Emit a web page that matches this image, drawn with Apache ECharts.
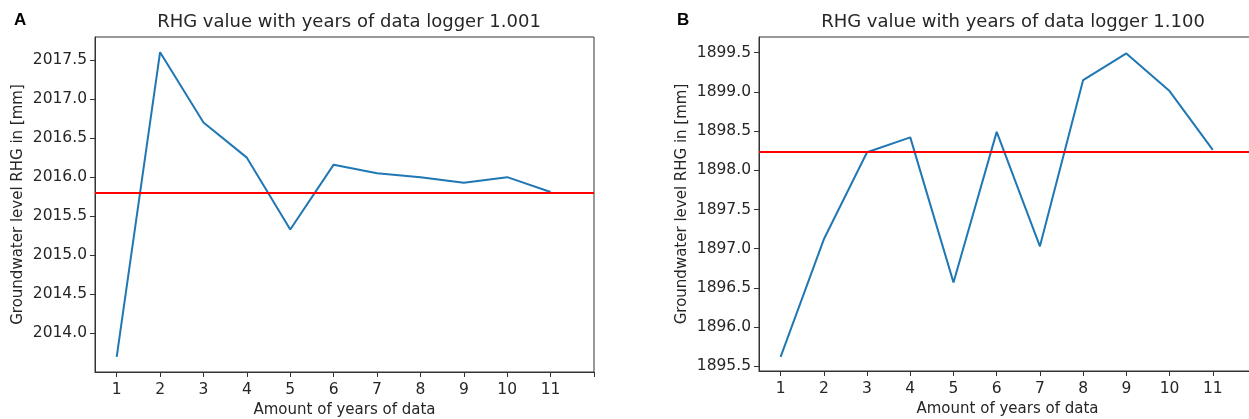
<!DOCTYPE html>
<html>
<head>
<meta charset="utf-8">
<script src="https://cdn.jsdelivr.net/npm/echarts@6/dist/echarts.min.js"></script>
<style>
html,body{margin:0;padding:0;background:#fff;}
#c{width:1249px;height:419px;}
</style>
</head>
<body>
<div id="c"></div>
<script>
const years = [1, 2, 3, 4, 5, 6, 7, 8, 9, 10, 11];
const xTicks = [1, 2, 3, 4, 5, 6, 7, 8, 9, 10, 11, 12];
const xLabels = [1, 2, 3, 4, 5, 6, 7, 8, 9, 10, 11];
const logger1001 = [2013.70, 2017.60, 2016.70, 2016.25, 2015.33, 2016.16, 2016.05, 2016.00, 2015.93, 2016.00, 2015.81];
const logger1100 = [1895.62, 1897.12, 1898.23, 1898.42, 1896.57, 1898.49, 1897.03, 1899.15, 1899.49, 1899.01, 1898.26];
const ref1001 = 2015.80;
const ref1100 = 1898.24;
const yTicks1001 = [2014.0, 2014.5, 2015.0, 2015.5, 2016.0, 2016.5, 2017.0, 2017.5];
const yTicks1100 = [1895.5, 1896.0, 1896.5, 1897.0, 1897.5, 1898.0, 1898.5, 1899.0, 1899.5];
const title1001 = 'RHG value with years of data logger 1.001';
const title1100 = 'RHG value with years of data logger 1.100';
const xName = 'Amount of years of data';
const yName = 'Groundwater level RHG in [mm]';

const FONT = 'DejaVu Sans';
const chart = echarts.init(document.getElementById('c'), null, {renderer: 'canvas'});

function xAxisCfg(gi) {
  return {
    type: 'value', gridIndex: gi, min: 0.5, max: 12,
    name: xName, nameLocation: 'middle', nameGap: 31,
    nameTextStyle: {fontFamily: FONT, fontSize: 15, color: '#262626'},
    axisLine: {show: true, lineStyle: {color: '#333', width: 1}},
    axisTick: {show: true, length: 5, customValues: xTicks, lineStyle: {color: '#333'}},
    axisLabel: {show: true, customValues: xLabels, margin: 10, fontFamily: FONT, fontSize: 15.5, color: '#262626',
      formatter: v => String(Math.round(v))},
    splitLine: {show: false}
  };
}
function yAxisCfg(gi, mn, mx, ticks) {
  return {
    type: 'value', gridIndex: gi, min: mn, max: mx,
    name: yName, nameLocation: 'middle', nameGap: 69, nameRotate: 90,
    nameTextStyle: {fontFamily: FONT, fontSize: 15, color: '#262626'},
    axisLine: {show: true, lineStyle: {color: '#333', width: 1}},
    axisTick: {show: true, length: 5, customValues: ticks, lineStyle: {color: '#333'}},
    axisLabel: {show: true, customValues: ticks, margin: 8, fontFamily: FONT, fontSize: 15.5, color: '#262626',
      formatter: v => v.toFixed(1)},
    splitLine: {show: false}
  };
}
function lineSeries(gi, vals, ref) {
  return {
    type: 'line', xAxisIndex: gi, yAxisIndex: gi,
    data: years.map((y, i) => [y, vals[i]]),
    symbol: 'none', showSymbol: false,
    lineStyle: {color: '#1f77b4', width: 2},
    itemStyle: {color: '#1f77b4'},
    markLine: {
      silent: true, symbol: ['none', 'none'], animation: false,
      label: {show: false},
      lineStyle: {color: '#ff0000', width: 2, type: 'solid'},
      data: [{yAxis: ref}]
    }
  };
}

chart.setOption({
  animation: false,
  backgroundColor: '#ffffff',
  title: [
    {text: title1001, left: 344, top: 8, textAlign: 'center',
      textStyle: {fontFamily: FONT, fontSize: 18, fontWeight: 'normal', color: '#262626'}},
    {text: title1100, left: 1008, top: 8, textAlign: 'center',
      textStyle: {fontFamily: FONT, fontSize: 18, fontWeight: 'normal', color: '#262626'}},
    {text: 'A', left: 9, top: 7,
      textStyle: {fontFamily: 'Liberation Sans', fontSize: 17, fontWeight: 'bold', color: '#000'}},
    {text: 'B', left: 672, top: 7,
      textStyle: {fontFamily: 'Liberation Sans', fontSize: 17, fontWeight: 'bold', color: '#000'}}
  ],
  grid: [
    {left: 95, top: 37, width: 499, height: 335, show: true, borderColor: '#333', borderWidth: 1, backgroundColor: 'transparent', containLabel: false, outerBoundsMode: 'none'},
    {left: 759, top: 37, width: 497, height: 334, show: true, borderColor: '#333', borderWidth: 1, backgroundColor: 'transparent', containLabel: false, outerBoundsMode: 'none'}
  ],
  xAxis: [xAxisCfg(0), xAxisCfg(1)],
  yAxis: [yAxisCfg(0, 2013.505, 2017.795, yTicks1001), yAxisCfg(1, 1895.44, 1899.70, yTicks1100)],
  series: [lineSeries(0, logger1001, ref1001), lineSeries(1, logger1100, ref1100)]
});
</script>
</body>
</html>
